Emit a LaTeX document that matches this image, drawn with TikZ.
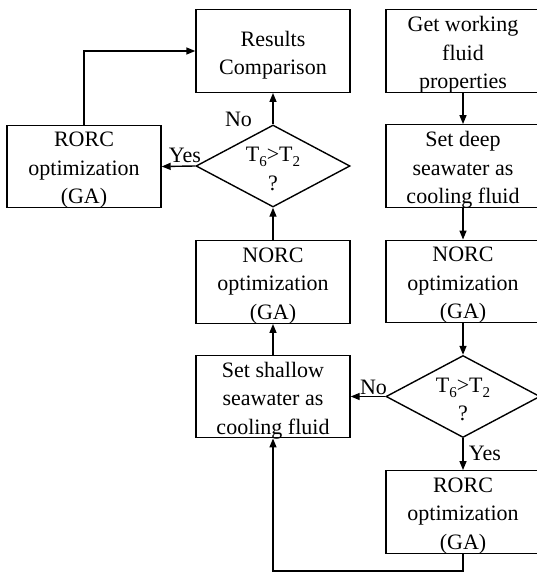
\documentclass[tikz,border=0pt]{standalone}
\usepackage{fontspec}
\setmainfont{Liberation Serif}
\usetikzlibrary{arrows.meta,shapes.geometric}
% lowered, smaller index digit for the temperature labels
\newcommand\lowidx[1]{\raisebox{-0.5ex}{\fontsize{15pt}{15pt}\selectfont #1}}
\begin{document}
\begin{tikzpicture}[x=1pt,y=-1pt,
  every node/.style={font=\fontsize{22pt}{28.5pt}\selectfont},
  boxtext/.style={align=center, inner sep=0pt, yshift=-4pt},
  box/.style={draw, line width=1.4pt, minimum width=154pt, minimum height=82.5pt,
    inner sep=0pt, label={[boxtext]center:{#1}}},
  decision/.style={diamond, draw, line width=1.4pt, minimum width=154pt,
    minimum height=82pt, inner sep=0pt, label={[boxtext,yshift=1pt]center:{#1}}},
  flow/.style={line width=1.4pt, -{Triangle[length=9pt,width=7pt]}},
  lbl/.style={inner sep=0pt}]
\clip (0,0) rectangle (537,573);

% left column
\node[box={Results\\Comparison}] (res) at (273,51) {};
\node[decision={T\lowidx{6}>T\lowidx{2}\\?}] (d1) at (273,166) {};
\node[box={RORC\\optimization\\(GA)}] (rorcL) at (84,166.5) {};
\node[box={NORC\\optimization\\(GA)}] (norcL) at (273,282) {};
\node[box={Set shallow\\seawater as\\cooling fluid}] (shallow) at (273,396.5) {};

% right column
\node[box={Get working\\fluid\\properties}] (get) at (463,51) {};
\node[box={Set deep\\seawater as\\cooling fluid}] (deep) at (463,166) {};
\node[box={NORC\\optimization\\(GA)}] (norcR) at (463,281.5) {};
\node[decision={T\lowidx{6}>T\lowidx{2}\\?}] (d2) at (463,396.5) {};
\node[box={RORC\\optimization\\(GA)}] (rorcR) at (463,512) {};

\coordinate (loop) at (273,571);

% connectors
\draw[flow] (get) -- (deep);
\draw[flow] (deep) -- (norcR);
\draw[flow] (norcR) -- (d2);
\draw[flow] (d2) -- (rorcR);
\draw[flow] (d2.west) -- (shallow.east);
\draw[flow] (rorcR.south) |- (loop) -- (shallow.south);
\draw[flow] (shallow) -- (norcL);
\draw[flow] (norcL) -- (d1);
\draw[flow] (d1) -- (res);
\draw[flow] (d1.west) -- (rorcL.east);
\draw[flow] (rorcL.north) |- (res.west);

% branch labels
\node[lbl] (noL) at (238.5,119) {No};
\node[lbl] (yesL) at (185,155.5) {Yes};
\node[lbl] (noR) at (373.5,387) {No};
\node[lbl] (yesR) at (485,453) {Yes};
\end{tikzpicture}
\end{document}
